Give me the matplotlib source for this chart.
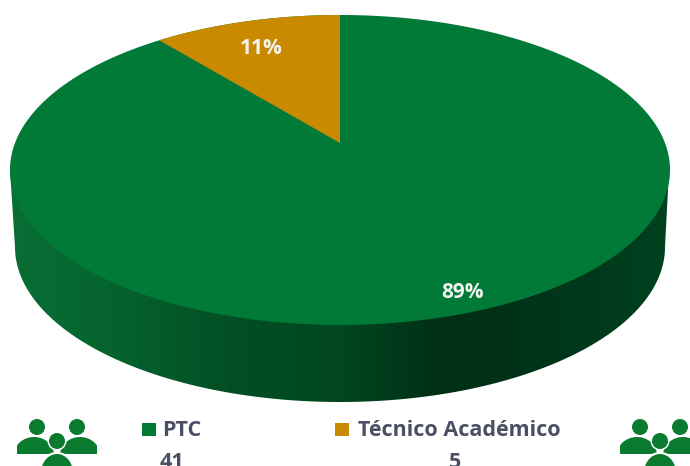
"""Pseudo-3D pie of PTC vs Tecnico Academico."""

import matplotlib
matplotlib.use("Agg")
import matplotlib.pyplot as plt
from matplotlib.patches import Circle, Ellipse, Polygon, Rectangle
import numpy as np

categories = ["PTC", "Técnico Académico"]
counts = [41, 5]
colors = ["#007A36", "#C98A00"]
text_color = "#4A4F63"

side_x = [10, 120, 230, 340, 440, 520, 600, 669]
side_colors = ["#0A6E35", "#05622D", "#024F24", "#00471F", "#002F16",
               "#003219", "#003A1B", "#00421F"]

W, H = 690, 466


def project(frac):
    """Map pie fraction (clockwise from top) onto the tilted disc in pixels."""
    ang = 2 * np.pi * np.asarray(frac)
    u, v = np.sin(ang), np.cos(ang)
    den = 1 + 0.174 * v
    return 340 + 325 * u / den, (143 - 125.4 * v) / den


def people(ax, dx):
    """Draw the three people icon, dx is the horizontal offset."""
    green = "#0A7A2E"
    for x in (37 + dx, 77 + dx):
        ax.add_patch(Circle((x, 427), 8, color=green, lw=0))
        shift = -3 if x < 57 + dx else 3
        body = Ellipse((x + shift, 455), 40, 36, color=green, lw=0)
        ax.add_patch(body)
        body.set_clip_path(Rectangle((x - 20, 437), 40, 17,
                                     transform=ax.transData))
    ax.add_patch(Circle((57 + dx, 441), 9.5, color="white", lw=0))
    ax.add_patch(Circle((57 + dx, 441), 8, color=green, lw=0))
    ax.add_patch(Ellipse((57 + dx, 472), 38, 40, color="white", lw=0))
    ax.add_patch(Ellipse((57 + dx, 473), 32, 38, color=green, lw=0))


fig = plt.figure(figsize=(W / 100, H / 100), dpi=100)
ax = fig.add_axes([0, 0, 1, 1])
ax.set_xlim(0, W)
ax.set_ylim(H, 0)
ax.axis("off")
plt.rcParams["font.family"] = ["Open Sans", "DejaVu Sans"]

# side wall of the disc, gradient clipped to the outline
t = np.linspace(0, np.pi, 200)
lower_x = 340 + 325 * np.cos(t)
lower_y = 247 + 155 * np.sin(t)
outline = np.column_stack([np.r_[10, lower_x[::-1], 669],
                           np.r_[170, lower_y[::-1], 170]])
wall = Polygon(outline, closed=True, transform=ax.transData, fc="none", lw=0)
ax.add_patch(wall)
rgb = np.array([matplotlib.colors.to_rgb(c) for c in side_colors])
xs = np.arange(W)
grad = np.stack([np.interp(xs, side_x, rgb[:, i]) for i in range(3)], axis=-1)
img = ax.imshow(grad[np.newaxis, :, :], extent=(0, W, H, 0), aspect="auto",
                interpolation="bilinear", zorder=1)
img.set_clip_path(wall)
ax.set_xlim(0, W)
ax.set_ylim(H, 0)

# top face, one wedge per category
shares = np.array(counts) / sum(counts)
ends = 1 - np.cumsum(shares[::-1])
fr = np.linspace(0, 1, 400)
px, py = project(fr)
ax.add_patch(Polygon(np.column_stack([px, py]), closed=True, fc=colors[0],
                     lw=0, zorder=2))
fr = np.linspace(ends[0], 1, 60)
px, py = project(fr)
ax.add_patch(Polygon(np.column_stack([np.r_[340, px], np.r_[143, py]]),
                     closed=True, fc=colors[1], lw=0, zorder=3))

ax.text(261, 49, "{:.0f}%".format(shares[1] * 100), color="#F4F4EE",
        fontsize=15, fontweight="bold", ha="center", va="center", zorder=4)
ax.text(463, 293, "{:.0f}%".format(shares[0] * 100), color="#F0F4EE",
        fontsize=15, fontweight="bold", ha="center", va="center", zorder=4)

# legend row
for x, color, x_txt, x_num, name, n in zip((142, 335), colors, (162, 358),
                                           (172, 455), categories, counts):
    ax.add_patch(Rectangle((x, 423), 14, 13, color=color, lw=0))
    ax.text(x_txt, 431, name, color=text_color, fontsize=15.5,
            fontweight="bold", ha="left", va="center")
    ax.text(x_num, 462, str(n), color=text_color, fontsize=15.5,
            fontweight="bold", ha="center", va="center")

people(ax, 0)
people(ax, 603)

fig.savefig("out.png", dpi=100)
